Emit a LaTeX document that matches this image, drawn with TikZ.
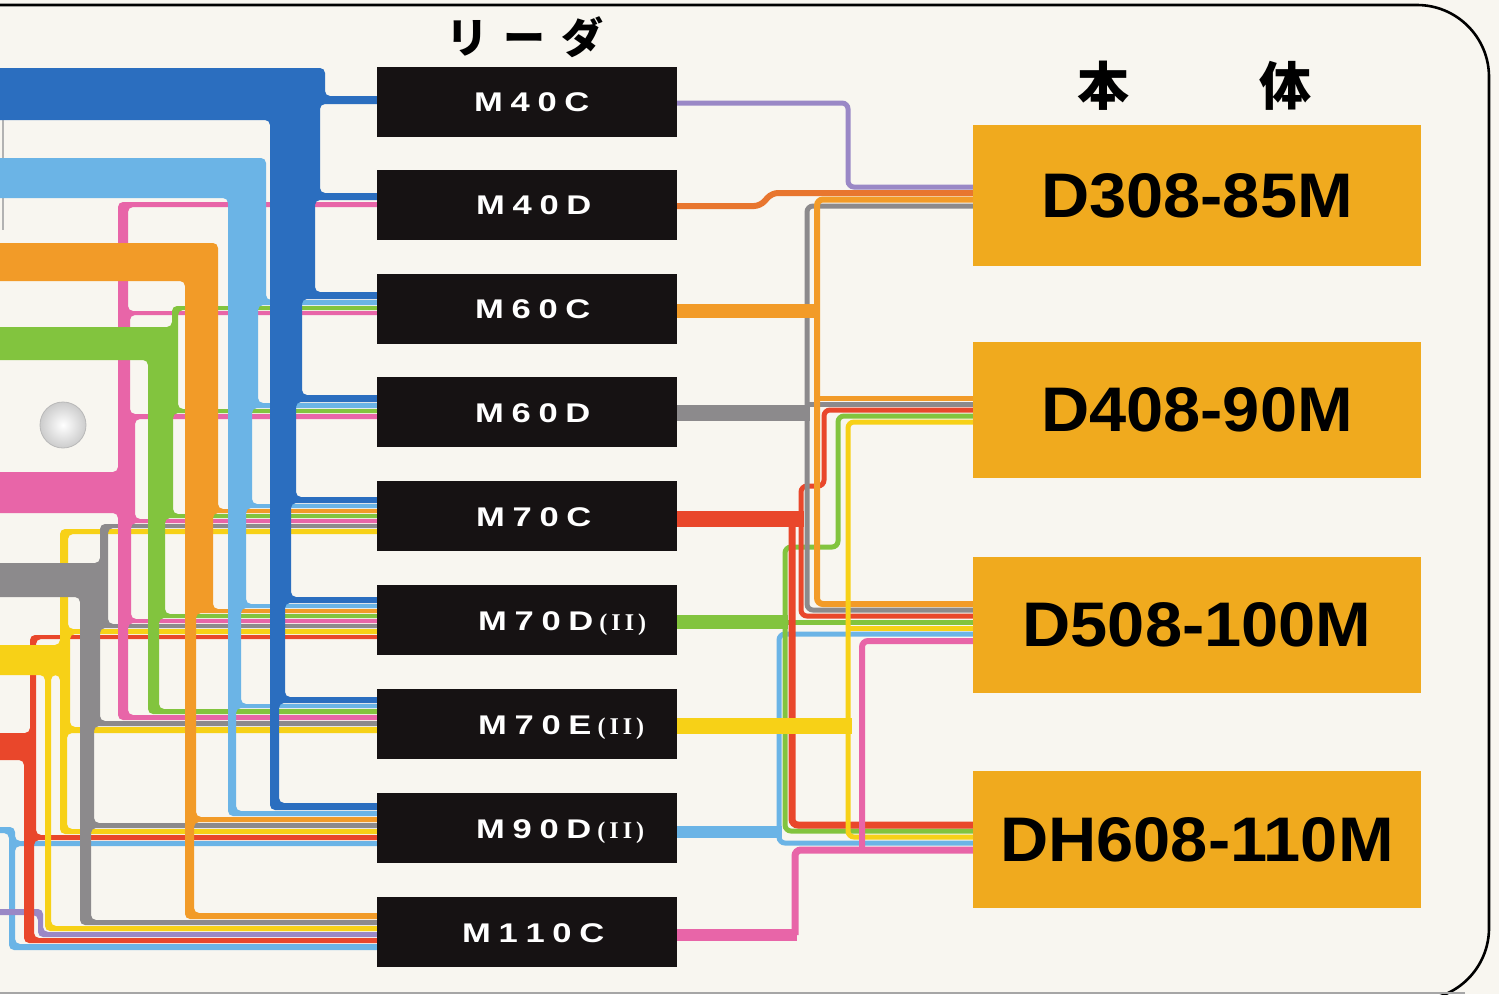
\documentclass[tikz,border=0pt]{standalone}
\usepackage{fontspec}
\setmainfont{Liberation Sans}
\newfontfamily\cjk{Noto Sans CJK JP}
\newfontfamily\serifii{Liberation Serif}
\definecolor{paper}{HTML}{F8F6F0}
\definecolor{ink}{HTML}{161213}
\definecolor{gold}{HTML}{F0AA1E}
\definecolor{cdb}{HTML}{2B6EBF}
\definecolor{clb}{HTML}{6BB4E6}
\definecolor{cpk}{HTML}{E865A8}
\definecolor{cor}{HTML}{F29B28}
\definecolor{cgn}{HTML}{82C43E}
\definecolor{cgy}{HTML}{8C8A8C}
\definecolor{cyl}{HTML}{F7D117}
\definecolor{crd}{HTML}{E9472B}
\definecolor{cpu}{HTML}{9A88C6}
\definecolor{cdo}{HTML}{E8762F}
\newcommand\gp{\hspace{6pt}}
\newcommand\lt[1]{\scalebox{1.28}[1]{#1}}
\newcommand\rom{\hspace{6pt}{\serifii\fontsize{24}{24}\selectfont(\kern4pt I\kern4pt I\kern4pt)}}
\begin{document}
\begin{tikzpicture}[x=1pt,y=-1pt,
  leader/.style={fill=ink, minimum width=300pt, minimum height=70pt, inner sep=0pt},
  body/.style={fill=gold, minimum width=448pt, inner sep=0pt, font=\bfseries\fontsize{63}{63}\selectfont},
  ltext/.style={text=white, anchor=base west, inner sep=0pt, font=\bfseries\fontsize{27}{27}\selectfont},
  band/.style={rounded corners=5pt},
  wire/.style={rounded corners=6pt},
]
\useasboundingbox (0,0) rectangle (1499,994);
\fill[paper] (0,0) rectangle (1499,994);

% card border
\draw[line width=2.6pt, rounded corners=72pt] (-5,5) -- (1489,5) -- (1489,1000) -- (1300,1000);
\draw[gray!70, line width=2pt] (-5,993) -- (1465,993);
\draw[gray!60, line width=1.2pt] (3,120) -- (3,230);
% punched hole
\shade[inner color=white, outer color=gray!40] (63,425) circle (23);
\draw[gray!55, line width=0.8pt] (63,425) circle (23);

% ---------- left bundles ----------
\fill[clb, band] (-10,827) -- (15,827) -- (15,841) -- (388,841) -- (388,846) -- (15,846) -- (15,944) -- (388,944) -- (388,950) -- (9,950) -- (9,833) -- (-10,833) -- cycle;
\fill[cpu, band] (-10,909) -- (43,909) -- (43,932) -- (388,932) -- (388,937) -- (38,937) -- (38,915) -- (-10,915) -- cycle;
\fill[crd, band] (30,635) -- (388,635) -- (388,639) -- (36,639) -- (36,835) -- (388,835) -- (388,840) -- (34,840) -- (34,938) -- (388,938) -- (388,943) -- (24,943) -- (24,760) -- (-10,760) -- (-10,733) -- (30,733) -- cycle;
\fill[cyl, band] (60,529) -- (388,529) -- (388,534) -- (68,534) -- (68,629) -- (388,629) -- (388,634) -- (70,634) -- (70,727) -- (388,727) -- (388,733) -- (67,733) -- (67,829) -- (388,829) -- (388,834) -- (60,834) -- (60,675) -- (51,675) -- (51,926) -- (388,926) -- (388,931) -- (45,931) -- (45,675) -- (-10,675) -- (-10,645) -- (60,645) -- cycle;
\fill[cgy, band] (100,524) -- (388,524) -- (388,528) -- (108,528) -- (108,624) -- (388,624) -- (388,628) -- (100,628) -- (100,721) -- (388,721) -- (388,726) -- (94,726) -- (94,823) -- (388,823) -- (388,828) -- (91,828) -- (91,920) -- (388,920) -- (388,925) -- (80,925) -- (80,597) -- (-10,597) -- (-10,563) -- (100,563) -- cycle;
\fill[cpk, band] (118,202) -- (388,202) -- (388,207) -- (128,207) -- (128,311) -- (388,311) -- (388,315) -- (130,315) -- (130,414) -- (388,414) -- (388,419) -- (135,419) -- (135,519) -- (388,519) -- (388,523) -- (131,523) -- (131,619) -- (388,619) -- (388,623) -- (128,623) -- (128,715) -- (388,715) -- (388,720) -- (118,720) -- (118,513) -- (-10,513) -- (-10,472) -- (118,472) -- cycle;
\fill[cgn, band] (-10,327) -- (172,327) -- (172,306) -- (388,306) -- (388,310) -- (178,310) -- (178,409) -- (388,409) -- (388,413) -- (173,413) -- (173,514) -- (388,514) -- (388,518) -- (165,518) -- (165,614) -- (388,614) -- (388,618) -- (159,618) -- (159,709) -- (388,709) -- (388,714) -- (148,714) -- (148,360) -- (-10,360) -- cycle;
\fill[cor, band] (-10,243) -- (218,243) -- (218,509) -- (388,509) -- (388,513) -- (213,513) -- (213,609) -- (388,609) -- (388,613) -- (196,613) -- (196,817) -- (388,817) -- (388,822) -- (194,822) -- (194,913) -- (388,913) -- (388,919) -- (185,919) -- (185,281) -- (-10,281) -- cycle;
\fill[clb, band] (-10,158) -- (266,158) -- (266,300) -- (388,300) -- (388,305) -- (258,305) -- (258,403) -- (388,403) -- (388,408) -- (252,408) -- (252,504) -- (388,504) -- (388,508) -- (246,508) -- (246,604) -- (388,604) -- (388,608) -- (241,608) -- (241,704) -- (388,704) -- (388,708) -- (236,708) -- (236,811) -- (388,811) -- (388,816) -- (228,816) -- (228,198) -- (-10,198) -- cycle;
\fill[cdb, band] (-10,68) -- (325,68) -- (325,96) -- (388,96) -- (388,104) -- (320,104) -- (320,193) -- (388,193) -- (388,200) -- (315,200) -- (315,292) -- (388,292) -- (388,299) -- (302,299) -- (302,395) -- (388,395) -- (388,402) -- (296,402) -- (296,497) -- (388,497) -- (388,503) -- (291,503) -- (291,597) -- (388,597) -- (388,603) -- (285,603) -- (285,697) -- (388,697) -- (388,703) -- (279,703) -- (279,803) -- (388,803) -- (388,810) -- (270,810) -- (270,120) -- (-10,120) -- cycle;

% ---------- boxes ----------
\node[leader] (M40C)  at (527,101.5) {};
\node[leader] (M40D)  at (527,204.5) {};
\node[leader] (M60C)  at (527,308.5) {};
\node[leader] (M60D)  at (527,412) {};
\node[leader] (M70C)  at (527,516) {};
\node[leader] (M70D)  at (527,620) {};
\node[leader] (M70E)  at (527,724) {};
\node[leader] (M90D)  at (527,828) {};
\node[leader] (M110C) at (527,932) {};

\node[body, minimum height=141pt] (D308)  at (1197,195.5) {\scalebox{1.06}[1]{D308-85M}};
\node[body, minimum height=136pt] (D408)  at (1197,410)   {\scalebox{1.06}[1]{D408-90M}};
\node[body, minimum height=136pt] (D508)  at (1197,625)   {\scalebox{1.06}[1]{D508-100M}};
\node[body, minimum height=137pt] (DH608) at (1197,839.5) {\scalebox{1.06}[1]{DH608-110M}};

% ---------- right wiring ----------
% light blue (M90D)
\draw[clb, line width=5pt, wire] (D508.west |- 0,634) -- (779,634) -- (779,843) -- (DH608.west |- 0,843);
\draw[clb, line width=12pt] (M90D.east |- 0,832) -- (782,832);
% green (M70D)
\draw[cgn, line width=5pt, wire] (D408.west |- 0,416) -- (838,416) -- (838,547) -- (785,547) -- (785,831) -- (DH608.west |- 0,831);
\draw[cgn, line width=5pt] (785,622) -- (D508.west |- 0,622);
\draw[cgn, line width=14pt] (M70D.east |- 0,622) -- (788,622);
% red (M70C)
\draw[crd, line width=5pt, wire] (D408.west |- 0,410) -- (824,410) -- (824,486) -- (801,486) -- (801,616) -- (D508.west |- 0,616);
\draw[crd, line width=7pt, wire] (792,519) -- (792,825) -- (DH608.west |- 0,825);
\draw[crd, line width=16pt] (M70C.east |- 0,519) -- (804,519);
% gray (M60D)
\draw[cgy, line width=5pt, wire] (D308.west |- 0,206) -- (807,206) -- (807,610) -- (D508.west |- 0,610);
\draw[cgy, line width=5pt] (807,404) -- (D408.west |- 0,404);
\draw[cgy, line width=16pt] (M60D.east |- 0,413) -- (810,413);
% orange (M60C)
\draw[cor, line width=6pt, wire] (D308.west |- 0,199.5) -- (817,199.5) -- (817,604) -- (D508.west |- 0,604);
\draw[cor, line width=5pt] (817,398) -- (D408.west |- 0,398);
\draw[cor, line width=14pt] (M60C.east |- 0,311) -- (820,311);
% yellow (M70E)
\draw[cyl, line width=5pt, wire] (D408.west |- 0,422) -- (848,422) -- (848,837) -- (DH608.west |- 0,837);
\draw[cyl, line width=5pt] (848,628) -- (D508.west |- 0,628);
\draw[cyl, line width=16pt] (M70E.east |- 0,726) -- (852,726);
% pink (M110C)
\draw[cpk, line width=6pt, wire] (D508.west |- 0,641) -- (862,641) -- (862,850);
\draw[cpk, line width=12pt] (M110C.east |- 0,935) -- (797,935);
\draw[cpk, line width=7pt, wire] (795,935) -- (795,850) -- (DH608.west |- 0,850);
% purple (M40C)
\draw[cpu, line width=5pt, wire] (M40C.east |- 0,103) -- (848,103) -- (848,187) -- (D308.west |- 0,187);
% dark orange (M40D)
\draw[cdo, line width=6pt, wire] (M40D.east |- 0,206) -- (760,206) -- (772,193) -- (D308.west |- 0,193);

% ---------- leader labels ----------
\node[ltext] (tM40C)  at (474,111.5) {\lt{M\gp4\gp0\gp C}};
\node[ltext] (tM40D)  at (476,214.5) {\lt{M\gp4\gp0\gp D}};
\node[ltext] (tM60C)  at (475,318.5) {\lt{M\gp6\gp0\gp C}};
\node[ltext] (tM60D)  at (475,422) {\lt{M\gp6\gp0\gp D}};
\node[ltext] (tM70C)  at (476,526) {\lt{M\gp7\gp0\gp C}};
\node[ltext] (tM70D)  at (478,630) {\lt{M\gp7\gp0\gp D}\rom};
\node[ltext] (tM70E)  at (478,734) {\lt{M\gp7\gp0\gp E}\rom};
\node[ltext] (tM90D)  at (476,838) {\lt{M\gp9\gp0\gp D}\rom};
\node[ltext] (tM110C) at (462,942) {\lt{M\gp1\gp1\gp0\gp C}};

% ---------- headings ----------
\node[inner sep=0pt, font=\cjk\bfseries\fontsize{42}{42}\selectfont] (hLeader) at (525,37) {リ\hspace{16pt}ー\hspace{16pt}ダ};
\node[inner sep=0pt, font=\cjk\bfseries\fontsize{52}{52}\selectfont] (hBody) at (1194,86) {本\hspace{130pt}体};
\end{tikzpicture}
\end{document}
